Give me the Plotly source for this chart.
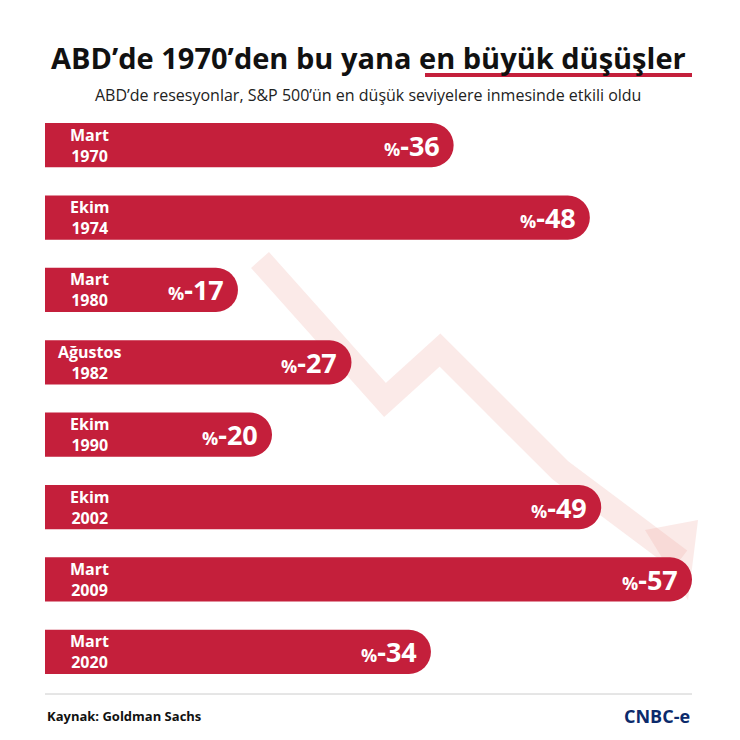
import plotly.graph_objects as go

dates = ["Mart<br>1970", "Ekim<br>1974", "Mart<br>1980", "Ağustos<br>1982",
         "Ekim<br>1990", "Ekim<br>2002", "Mart<br>2009", "Mart<br>2020"]
values = [36, 48, 17, 27, 20, 49, 57, 34]
cats = [str(i) for i in range(len(values))]

RED = "#c41f3b"
FONT = "Open Sans"

fig = go.Figure(go.Bar(
    x=values, y=cats, orientation="h", marker=dict(color=RED, line_width=0),
    hoverinfo="skip"))

W = 740
OFF = 8  # page offset
L, T = 45 - OFF, 109 - OFF
R, B = W - (692 - OFF), W - (688 - OFF)
pw, ph = W - L - R, W - T - B

def px(x, y):
    return (x - OFF - L) / pw, (W - B - (y - OFF)) / ph

ann = []
for c, d, v in zip(cats, dates, values):
    ann.append(dict(x=0, y=c, xref="x", yref="y", text="<b>" + d + "</b>",
                    showarrow=False, xanchor="center", xshift=44,
                    font=dict(family=FONT, size=16, color="white"), align="center"))
    ann.append(dict(x=v, y=c, xref="x", yref="y",
                    text="<b><span style='font-size:18px'>%</span>-" + str(v) + "</b>",
                    showarrow=False, xanchor="right", xshift=-12,
                    font=dict(family=FONT, size=27, color="white")))

def pann(x, y, text, size, color, xanchor="center"):
    px_, py_ = px(x, y)
    ann.append(dict(x=px_, y=py_, xref="paper", yref="paper", text=text, showarrow=False,
                    xanchor=xanchor, yanchor="middle", font=dict(family=FONT, size=size, color=color)))

pann(368, 58, "<b>ABD’de 1970’den bu yana en büyük düşüşler</b>", 29, "#111")
pann(368, 95, "ABD’de resesyonlar, S&P 500’ün en düşük seviyelere inmesinde etkili oldu", 16, "#222")
pann(45, 716, "<b>Kaynak: Goldman Sachs</b>", 13, "#111", "left")
pann(692, 716, "<b>CNBC-e</b>", 18, "#0b2a6b", "right")

shapes = []
xs = [260, 385, 440, 560, 680]
ys = [260, 400, 350, 470, 560]
path = "M " + " L ".join(f"{px(a,b)[0]},{px(a,b)[1]}" for a, b in zip(xs, ys))
shapes.append(dict(type="path", path=path, xref="paper", yref="paper",
                   line=dict(color="rgba(240,170,165,0.25)", width=24), layer="below"))
tip = [(645, 530), (688, 600), (698, 520)]
shapes.append(dict(type="path", xref="paper", yref="paper", layer="below",
                   path="M " + " L ".join(f"{px(a,b)[0]},{px(a,b)[1]}" for a, b in tip) + " Z",
                   fillcolor="rgba(240,170,165,0.25)", line_width=0))
x0, y0 = px(425, 75); x1, _ = px(692, 75)
shapes.append(dict(type="line", xref="paper", yref="paper", x0=x0, x1=x1, y0=y0, y1=y0,
                   line=dict(color=RED, width=4)))
x0, y0 = px(45, 694); x1, _ = px(692, 694)
shapes.append(dict(type="line", xref="paper", yref="paper", x0=x0, x1=x1, y0=y0, y1=y0,
                   line=dict(color="#ccc", width=1)))

fig.update_layout(
    width=W, height=W, margin=dict(l=L, r=R, t=T, b=B),
    paper_bgcolor="white", plot_bgcolor="white",
    xaxis=dict(range=[0, 57], visible=False, fixedrange=True),
    yaxis=dict(autorange="reversed", visible=False, categoryorder="array", categoryarray=cats),
    bargap=0.39, barcornerradius=22, showlegend=False,
    annotations=ann, shapes=shapes,
)
fig.write_html("out.html")
